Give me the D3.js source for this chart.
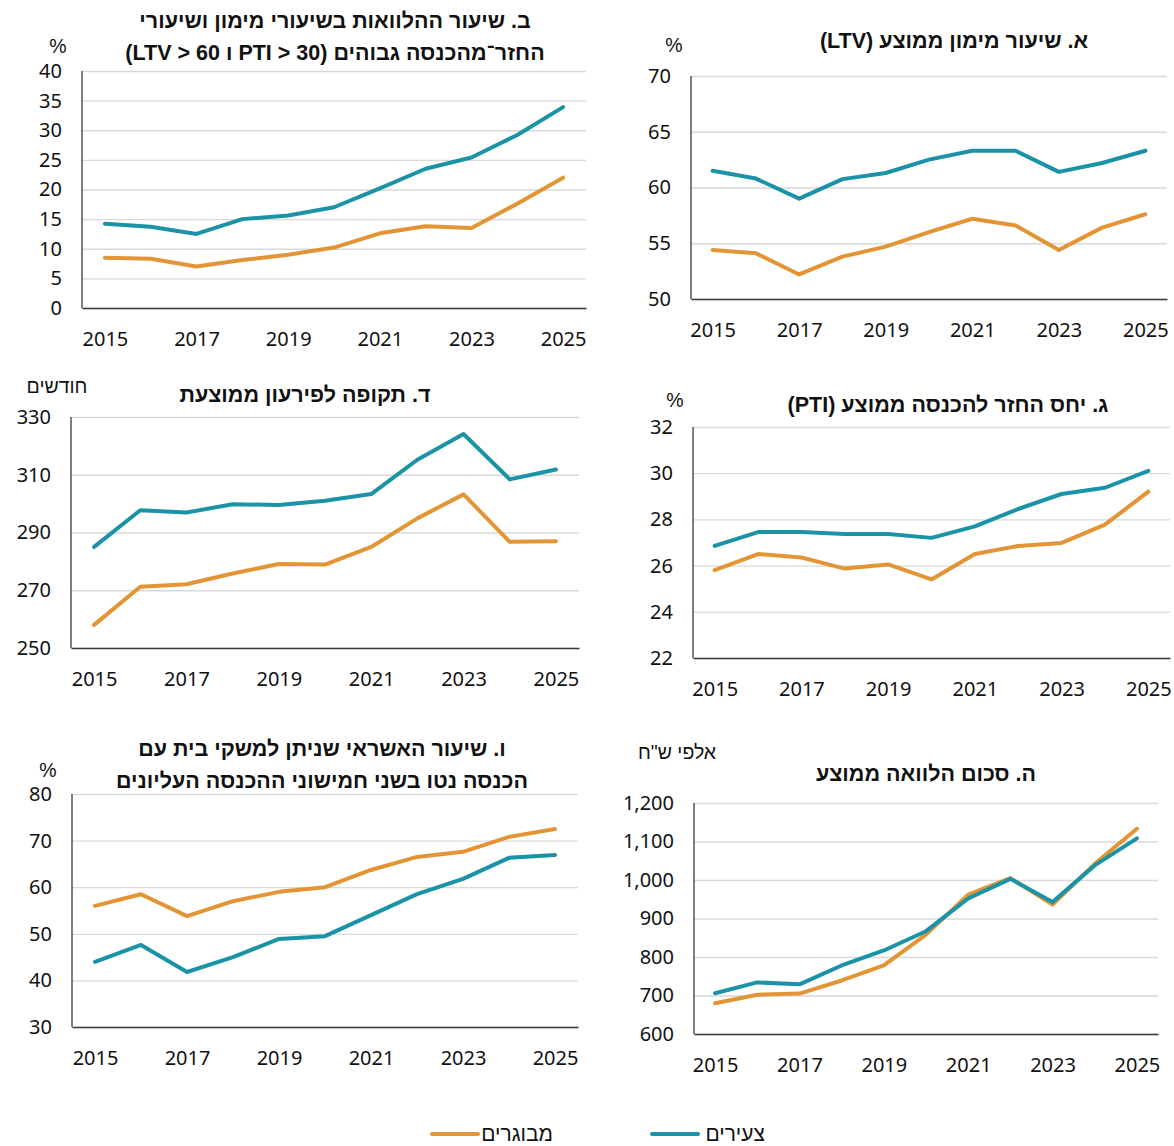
<!DOCTYPE html>
<html><head><meta charset="utf-8">
<script src="https://cdn.jsdelivr.net/npm/d3@7"></script>
<style>body{margin:0;background:#fff}</style>
</head><body><svg id="c" width="1174" height="1146"></svg>
<script>
const years = [2015,2016,2017,2018,2019,2020,2021,2022,2023,2024,2025];
const tickYears = [2015,2017,2019,2021,2023,2025];
const seriesNames = ["צעירים","מבוגרים"];

const ltvYoung = [61.5,60.8,59.0,60.75,61.3,62.5,63.3,63.3,61.4,62.2,63.3];
const ltvOld   = [54.4,54.1,52.2,53.8,54.7,56.0,57.2,56.6,54.4,56.4,57.6];
const highYoung = [14.2,13.7,12.5,15.0,15.6,17.0,20.2,23.5,25.4,29.2,33.9];
const highOld   = [8.5,8.3,7.0,8.1,9.0,10.2,12.6,13.8,13.5,17.6,22.0];
const ptiYoung = [26.85,27.45,27.45,27.37,27.37,27.2,27.7,28.45,29.1,29.37,30.1];
const ptiOld   = [25.8,26.5,26.35,25.87,26.05,25.4,26.5,26.85,26.98,27.77,29.2];
const termYoung = [285,297.7,296.9,299.8,299.5,301,303.3,315.2,324.1,308.4,311.8];
const termOld   = [258,271.2,272.1,275.8,279.1,278.9,285,294.9,303.2,286.8,287];
const amountYoung = [706,734,729,778,817,867,952,1003,943,1038,1108];
const amountOld   = [680,702,705,739,778,858,962,1005,936,1042,1133];
const topYoung = [44,47.6,41.8,45,48.9,49.5,54,58.5,61.8,66.3,66.9];
const topOld   = [56,58.5,53.8,57,59,60,63.7,66.5,67.6,70.8,72.5];

const ticksLtv = [50,55,60,65,70];
const ticksHigh = [0,5,10,15,20,25,30,35,40];
const ticksPti = [22,24,26,28,30,32];
const ticksTerm = [250,270,290,310,330];
const ticksAmount = [600,700,800,900,1000,1100,1200];
const ticksTop = [30,40,50,60,70,80];

const titleA = ["א. שיעור מימון ממוצע (LTV)"];
const titleB = ["ב. שיעור ההלוואות בשיעורי מימון ושיעורי", "החזר\u05BEמהכנסה גבוהים (PTI > 30 ו LTV > 60)"];
const titleG = ["ג. יחס החזר להכנסה ממוצע (PTI)"];
const titleD = ["ד. תקופה לפירעון ממוצעת"];
const titleH = ["ה. סכום הלוואה ממוצע"];
const titleV = ["ו. שיעור האשראי שניתן למשקי בית עם", "הכנסה נטו בשני חמישוני ההכנסה העליונים"];

const TEAL = "#1b93a6", ORANGE = "#e39535";
const NUMFONT = "'Noto Sans', 'Liberation Sans', sans-serif";
const HEBFONT = "'Liberation Sans', 'DejaVu Sans', sans-serif";

const panels = [
  {title:titleB, young:highYoung, old:highOld, ticks:ticksHigh, fmt:d3.format("d"), unit:"%",
   box:{x0:82,x1:586,y0:71,y1:308}, tx:335, ty:[20,52], ux:58, uy:46},
  {title:titleA, young:ltvYoung, old:ltvOld, ticks:ticksLtv, fmt:d3.format("d"), unit:"%",
   box:{x0:691,x1:1167,y0:76,y1:299}, tx:954, ty:[40], ux:674, uy:45},
  {title:titleD, young:termYoung, old:termOld, ticks:ticksTerm, fmt:d3.format("d"), unit:"חודשים",
   box:{x0:71,x1:579,y0:417,y1:648}, tx:305, ty:[394], ux:57, uy:386},
  {title:titleG, young:ptiYoung, old:ptiOld, ticks:ticksPti, fmt:d3.format("d"), unit:"%",
   box:{x0:693,x1:1170,y0:427,y1:658}, tx:948, ty:[404], ux:675, uy:400},
  {title:titleV, young:topYoung, old:topOld, ticks:ticksTop, fmt:d3.format("d"), unit:"%",
   box:{x0:72,x1:578,y0:794,y1:1027}, tx:322, ty:[748,780], ux:48, uy:770},
  {title:titleH, young:amountYoung, old:amountOld, ticks:ticksAmount, fmt:d3.format(","), unit:"אלפי ש\"ח",
   box:{x0:694,x1:1158,y0:803,y1:1034}, tx:926, ty:[773], ux:677, uy:752}
];

const svg = d3.select("#c");

panels.forEach(p => {
  const b = p.box;
  const x = d3.scalePoint().domain(years).range([b.x0, b.x1]).padding(0.5);
  const y = d3.scaleLinear().domain([p.ticks[0], p.ticks[p.ticks.length-1]]).range([b.y1, b.y0]);
  const g = svg.append("g");

  const yAxis = d3.axisLeft(y).tickValues(p.ticks).tickFormat(p.fmt).tickSize(-(b.x1-b.x0)).tickPadding(20);
  const ga = g.append("g").attr("transform", `translate(${b.x0},0)`).call(yAxis);
  ga.select(".domain").remove();
  ga.selectAll(".tick line").attr("stroke", "#d9d9d9").attr("stroke-width", 1.3);
  ga.selectAll(".tick text").attr("font-family", NUMFONT).attr("font-size", 20).attr("fill", "#111");

  const xAxis = d3.axisBottom(x).tickValues(tickYears).tickSize(0).tickPadding(24).tickFormat(d3.format("d"));
  const gx = g.append("g").attr("transform", `translate(0,${b.y1})`).call(xAxis);
  gx.select(".domain").attr("stroke", "#3a3a3a").attr("stroke-width", 1.3);
  gx.selectAll(".tick text").attr("font-family", NUMFONT).attr("font-size", 20).attr("fill", "#111");

  g.append("line").attr("x1", b.x0).attr("x2", b.x0).attr("y1", b.y0).attr("y2", b.y1)
    .attr("stroke", "#3a3a3a").attr("stroke-width", 1.3);

  const line = d3.line().x((d,i) => x(years[i])).y(d => y(d));
  g.append("path").datum(p.old).attr("d", line).attr("fill", "none").attr("stroke", ORANGE)
    .attr("stroke-width", 4).attr("stroke-linejoin", "round").attr("stroke-linecap", "round");
  g.append("path").datum(p.young).attr("d", line).attr("fill", "none").attr("stroke", TEAL)
    .attr("stroke-width", 4).attr("stroke-linejoin", "round").attr("stroke-linecap", "round");

  p.title.forEach((t, i) => {
    g.append("text").attr("x", p.tx).attr("y", p.ty[i]).attr("dy", "0.35em")
      .attr("text-anchor", "middle").attr("direction", "rtl")
      .attr("font-family", HEBFONT).attr("font-weight", "bold").attr("font-size", 21.5).attr("fill", "#111")
      .text(t);
  });
  g.append("text").attr("x", p.ux).attr("y", p.uy).attr("dy", "0.35em").attr("text-anchor", "middle")
    .attr("font-family", HEBFONT).attr("font-size", 19.5).attr("fill", "#111").text(p.unit);
});

const legend = [
  {name: seriesNames[1], color: ORANGE, lx: 432, tx: 553},
  {name: seriesNames[0], color: TEAL, lx: 652, tx: 765}
];
const lg = svg.append("g");
legend.forEach(l => {
  lg.append("line").attr("x1", l.lx).attr("x2", l.lx + 46).attr("y1", 1134).attr("y2", 1134)
    .attr("stroke", l.color).attr("stroke-width", 4).attr("stroke-linecap", "round");
  lg.append("text").attr("x", l.tx).attr("y", 1134).attr("dy", "0.35em").attr("text-anchor", "end")
    .attr("font-family", HEBFONT).attr("font-size", 21).attr("fill", "#111").text(l.name);
});
</script>
</body></html>
